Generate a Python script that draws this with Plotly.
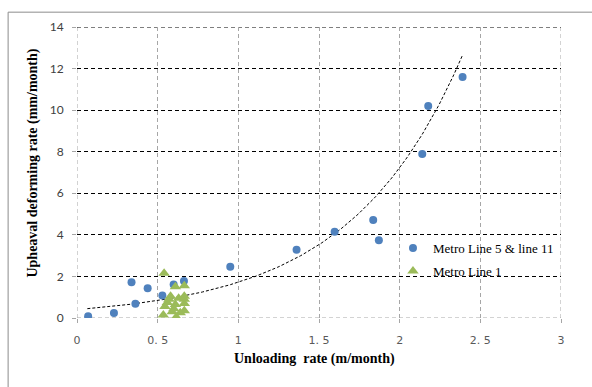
import numpy as np
import plotly.graph_objects as go

# ---- data ----
line5_11_x = [0.069, 0.229, 0.338, 0.362, 0.438, 0.529, 0.599, 0.663, 0.95,
              1.361, 1.597, 1.836, 1.871, 2.14, 2.177, 2.39]
line5_11_y = [0.08, 0.24, 1.72, 0.69, 1.43, 1.08, 1.61, 1.78, 2.46,
              3.28, 4.15, 4.71, 3.74, 7.89, 10.2, 11.59]

line1_x = [0.54, 0.61, 0.665, 0.58, 0.665, 0.56, 0.61, 0.665, 0.545,
           0.60, 0.665, 0.535, 0.615, 0.64, 0.57, 0.63, 0.59, 0.665]
line1_y = [2.15, 1.5, 1.55, 1.05, 1.05, 0.75, 0.65, 0.7, 0.55,
           0.45, 0.35, 0.15, 0.05, 0.25, 0.9, 0.95, 0.3, 0.9]

# exponential trendline y = a * exp(b x), coefficients
trend_a = 0.41
trend_b = 1.435

x_range = [0, 3]
y_range = [0, 14]
x_ticks = [0, 0.5, 1, 1.5, 2, 2.5, 3]
x_ticktext = ["0", "0. 5", "1", "1. 5", "2", "2. 5", "3"]
y_ticks = [0, 2, 4, 6, 8, 10, 12, 14]

trend_x = np.linspace(min(line5_11_x) - 0.005, max(line5_11_x), 200)
trend_y = trend_a * np.exp(trend_b * trend_x)

fig = go.Figure()
fig.add_trace(go.Scatter(
    x=trend_x, y=trend_y, mode="lines",
    line=dict(color="black", width=1, dash="3px,2px"),
    showlegend=False, hoverinfo="skip"))
fig.add_trace(go.Scatter(
    x=line5_11_x, y=line5_11_y, mode="markers", name="Metro Line 5 & line 11",
    legendgroup="a",
    marker=dict(symbol="circle", size=8, color="#4F81BD")))
fig.add_trace(go.Scatter(
    x=line1_x, y=line1_y, mode="markers", name="Metro Line 1",
    legendgroup="b",
    marker=dict(symbol="triangle-up", size=10, color="#9BBB59")))

L, R, T, B = 76.5, 30.7, 27.3, 69.3
W, H = 592, 387
pw, ph = W - L - R, H - T - B

def px(xpix):
    return (xpix - L) / pw

def py(ypix):
    return (H - B - ypix) / ph

GRAY = "#a6a6a6"
DASH = "4px,3px"

edge_lines = [
    # bottom (y=0) and left (x=0), right (x=3) edges: gray dashed
    dict(type="line", xref="x", yref="y", x0=x_range[0], x1=x_range[1],
         y0=y_range[0], y1=y_range[0], line=dict(color=GRAY, width=1, dash=DASH), layer="below"),
    dict(type="line", xref="x", yref="y", x0=x_range[0], x1=x_range[0],
         y0=y_range[0], y1=y_range[1], line=dict(color=GRAY, width=1, dash=DASH), layer="below"),
    dict(type="line", xref="x", yref="y", x0=x_range[1], x1=x_range[1],
         y0=y_range[0], y1=y_range[1], line=dict(color=GRAY, width=1, dash=DASH), layer="below"),
    # top edge (y=14): black dashed like the other horizontal grid lines
    dict(type="line", xref="x", yref="y", x0=x_range[0], x1=x_range[1],
         y0=y_range[1], y1=y_range[1], line=dict(color="black", width=1, dash=DASH), layer="below"),
    # outer chart border
    dict(type="rect", xref="paper", yref="paper",
         x0=px(7.5), x1=px(640), y0=py(440), y1=py(12.5),
         line=dict(color="#8c8c8c", width=1), fillcolor="rgba(0,0,0,0)"),
]

fig.update_layout(
    width=W, height=H,
    margin=dict(l=L, r=R, t=T, b=B, pad=0),
    paper_bgcolor="white", plot_bgcolor="white",
    showlegend=True,
    legend=dict(x=px(393), y=py(233), xanchor="left", yanchor="top",
                bgcolor="rgba(0,0,0,0)", traceorder="grouped",
                tracegroupgap=3, itemwidth=30,
                font=dict(family="Liberation Serif", size=13, color="black")),
    xaxis=dict(range=x_range, tickvals=x_ticks, ticktext=x_ticktext,
               showgrid=True, gridcolor=GRAY, griddash=DASH, gridwidth=1,
               zeroline=False, showline=False,
               ticks="outside", ticklen=4, tickcolor=GRAY,
               ticklabelstandoff=8,
               tickfont=dict(family="DejaVu Sans", size=11, color="#595959")),
    yaxis=dict(range=y_range, tickvals=y_ticks,
               showgrid=True, gridcolor="black", griddash=DASH, gridwidth=1,
               zeroline=False, showline=False,
               ticks="outside", ticklen=4, tickcolor=GRAY,
               ticklabelstandoff=6,
               tickfont=dict(family="Lato", size=12, color="#404040")),
    annotations=[
        dict(text="<b>Unloading  rate (m/month)</b>", xref="paper", yref="paper",
             x=px(314), y=py(359), xanchor="center", yanchor="middle",
             showarrow=False,
             font=dict(family="Liberation Serif", size=14, color="black")),
        dict(text="<b>Upheaval deforming rate (mm/month)</b>", xref="paper", yref="paper",
             x=px(32), y=py(163), xanchor="center", yanchor="middle",
             textangle=-90, showarrow=False,
             font=dict(family="Liberation Serif", size=14, color="black")),
    ],
    shapes=edge_lines,
)

fig.write_html("out.html")
